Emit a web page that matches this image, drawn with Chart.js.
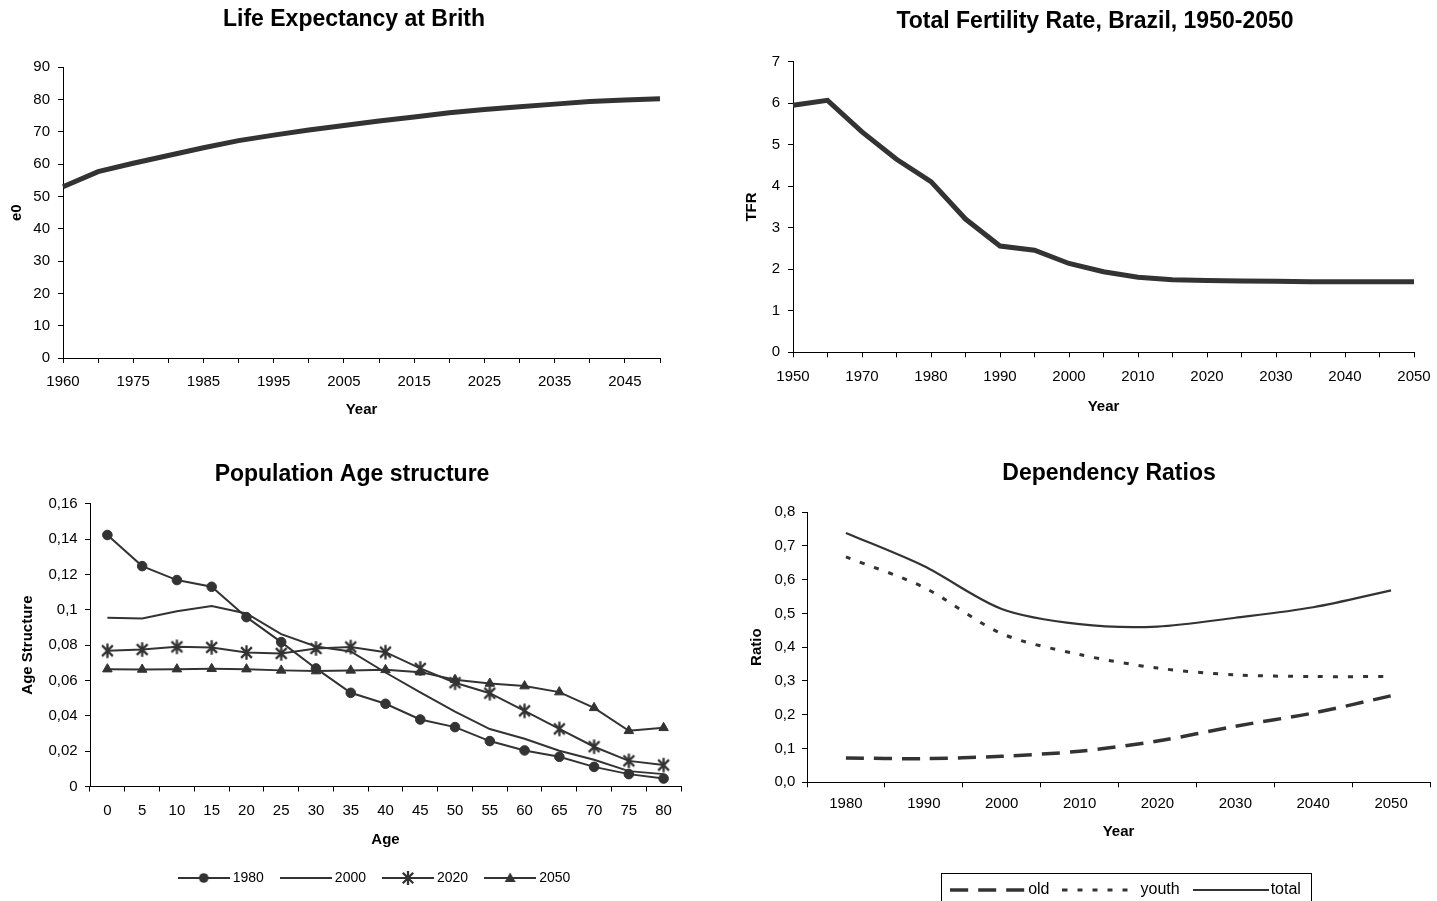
<!DOCTYPE html>
<html><head><meta charset="utf-8">
<script src="https://cdn.jsdelivr.net/npm/chart.js@4.4.1/dist/chart.umd.min.js"></script>
<style>
html,body{margin:0;padding:0;background:#fff;overflow:hidden;width:1437px;height:901px;position:relative;}
canvas{position:absolute;display:block;}
</style></head><body>
<canvas id="c1" width="708" height="430" style="left:0;top:0;width:708px;height:430px"></canvas>
<canvas id="c2" width="750" height="430" style="left:720px;top:0;width:750px;height:430px"></canvas>
<canvas id="c3" width="704" height="451" style="left:0;top:450px;width:704px;height:451px"></canvas>
<canvas id="c4" width="778" height="458" style="left:720px;top:450px;width:778px;height:458px"></canvas>
<script>
// ---------- DATA ----------
const lifeYears = ['1960','1970','1975','1980','1985','1990','1995','2000','2005','2010','2015','2020','2025','2030','2035','2040','2045','2050'];
const lifeE0 = [53.0, 57.7, 60.3, 62.7, 65.1, 67.3, 69.0, 70.6, 72.0, 73.4, 74.6, 75.9, 76.9, 77.8, 78.6, 79.4, 79.9, 80.3];

const tfrYears = ['1950','1960','1970','1975','1980','1985','1990','1995','2000','2005','2010','2015','2020','2025','2030','2035','2040','2045','2050'];
const tfrValues = [5.95, 6.07, 5.31, 4.65, 4.11, 3.21, 2.56, 2.46, 2.14, 1.94, 1.81, 1.75, 1.73, 1.72, 1.71, 1.70, 1.70, 1.70, 1.70];

const ages = ['0','5','10','15','20','25','30','35','40','45','50','55','60','65','70','75','80'];
const age1980 = [0.1423, 0.1247, 0.1168, 0.1130, 0.0958, 0.0817, 0.0668, 0.0530, 0.0468, 0.0379, 0.0336, 0.0257, 0.0204, 0.0168, 0.0111, 0.0070, 0.0045];
const age2000 = [0.0955, 0.0951, 0.0992, 0.1021, 0.0979, 0.0862, 0.0792, 0.0764, 0.0645, 0.0532, 0.0423, 0.0325, 0.0270, 0.0202, 0.0151, 0.0087, 0.0070];
const age2020 = [0.0768, 0.0775, 0.0790, 0.0787, 0.0758, 0.0753, 0.0781, 0.0789, 0.0760, 0.0668, 0.0587, 0.0528, 0.0428, 0.0326, 0.0225, 0.0145, 0.0121];
const age2050 = [0.0664, 0.0662, 0.0664, 0.0666, 0.0664, 0.0657, 0.0653, 0.0657, 0.0660, 0.0647, 0.0604, 0.0583, 0.0568, 0.0534, 0.0445, 0.0315, 0.0332];
const ageTickLabels = ['0','0,02','0,04','0,06','0,08','0,1','0,12','0,14','0,16'];

const depYears = ['1980','1990','2000','2010','2020','2030','2040','2050'];
const depOld = [0.072, 0.070, 0.077, 0.092, 0.122, 0.166, 0.205, 0.256];
const depYouth = [0.667, 0.577, 0.440, 0.378, 0.338, 0.318, 0.313, 0.313];
const depTotal = [0.738, 0.640, 0.513, 0.468, 0.461, 0.487, 0.518, 0.568];
const ratioTickLabels = ['0,0','0,1','0,2','0,3','0,4','0,5','0,6','0,7','0,8'];

// ---------- STYLE HELPERS ----------
const FONT = "'Liberation Sans', Arial, Helvetica, sans-serif";
Chart.defaults.font.family = FONT;
Chart.defaults.color = '#000';
const INK = '#333';

function axisStyle(extra) {
  return Object.assign({
    grid: {display: true, drawOnChartArea: false, drawTicks: true, tickLength: 5, color: '#000', lineWidth: 1},
    border: {display: true, color: '#000', width: 1}
  }, extra);
}
function spacer(w) {
  return {type: 'linear', position: 'right', display: true, grid: {display: false}, border: {display: false},
          ticks: {display: false}, afterFit(s) { s.width = w; }};
}
function titleOpt(text, top, bottom) {
  return {display: true, text, color: '#000', font: {size: 23, weight: 'bold'}, padding: {top, bottom}};
}
function axisTitle(text, top, bottom) {
  return {display: true, text, color: '#000', font: {size: 15, weight: 'bold'}, padding: {top, bottom}};
}
function mk(w, h, draw) {
  const c = document.createElement('canvas'); c.width = w; c.height = h;
  const ctx = c.getContext('2d'); draw(ctx, w, h); return c;
}
function drawStar(ctx, cx, cy, r) {
  ctx.strokeStyle = INK; ctx.lineWidth = 2.3; ctx.beginPath();
  ctx.moveTo(cx - r, cy - r); ctx.lineTo(cx + r, cy + r);
  ctx.moveTo(cx + r, cy - r); ctx.lineTo(cx - r, cy + r);
  ctx.moveTo(cx, cy - r * 1.35); ctx.lineTo(cx, cy + r * 1.35);
  ctx.stroke();
}
const starImg = mk(17, 17, (ctx) => drawStar(ctx, 8.5, 8.5, 5.4));

function ageSample(marker) {
  return mk(52, 16, (ctx, w, h) => {
    ctx.strokeStyle = INK; ctx.fillStyle = INK; ctx.lineWidth = 2;
    ctx.beginPath(); ctx.moveTo(0, 8); ctx.lineTo(w, 8); ctx.stroke();
    const cx = w / 2, cy = 8;
    if (marker === 'circle') { ctx.beginPath(); ctx.arc(cx, cy, 4.8, 0, Math.PI * 2); ctx.fill(); }
    if (marker === 'star') { drawStar(ctx, cx, cy, 5.2); }
    if (marker === 'triangle') { ctx.beginPath(); ctx.moveTo(cx, cy - 5.5); ctx.lineTo(cx + 5.5, cy + 4); ctx.lineTo(cx - 5.5, cy + 4); ctx.closePath(); ctx.fill(); }
  });
}
function depSample(dash, width, len) {
  return mk(76, 10, (ctx, w, h) => {
    ctx.strokeStyle = INK; ctx.lineWidth = width; ctx.setLineDash(dash);
    ctx.beginPath(); ctx.moveTo(0, 5); ctx.lineTo(len, 5); ctx.stroke();
  });
}
const ageLegendImgs = [ageSample('circle'), ageSample(null), ageSample('star'), ageSample('triangle')];
const OLD_DASH = [18, 10], YOUTH_DASH = [5, 10];
const depLegendImgs = [depSample(OLD_DASH, 3.5, 76), depSample(YOUTH_DASH, 3, 66), depSample([], 2, 76)];

// shifts a legend horizontally after layout (and optionally frames it)
function legendShift(dx, frame) {
  return {
    id: 'legendShift',
    afterUpdate(chart) {
      const lg = chart.legend;
      if (!lg) return;
      lg.left += dx; lg.right += dx;
      (lg.legendHitBoxes || []).forEach(h => { h.left += dx; });
    },
    afterDraw(chart) {
      if (!frame) return;
      const hb = chart.legend && chart.legend.legendHitBoxes;
      if (!hb || !hb.length) return;
      const first = hb[0], last = hb[hb.length - 1];
      const ctx = chart.ctx;
      ctx.save();
      ctx.strokeStyle = '#000'; ctx.lineWidth = 1;
      const l = Math.round(first.left - 15) + 0.5, r = Math.round(last.left + last.width + 10.6) + 0.5;
      const t = Math.round(first.top - 8.7) + 0.5, b = Math.round(first.top + 24.7) + 0.5;
      ctx.strokeRect(l, t, r - l, b - t);
      ctx.restore();
    }
  };
}

const base = {responsive: false, animation: false, devicePixelRatio: 1, events: []};

// ---------- CHART 1: Life expectancy ----------
new Chart(document.getElementById('c1'), {
  type: 'line',
  data: {labels: lifeYears, datasets: [{label: 'e0', data: lifeE0, borderColor: INK, borderWidth: 5, pointRadius: 0, tension: 0, fill: false}]},
  options: Object.assign({}, base, {
    plugins: {legend: {display: false}, tooltip: {enabled: false}, title: titleOpt('Life Expectancy at Brith', 6.2, 33.5)},
    scales: {
      x: axisStyle({offset: false,
        ticks: {autoSkip: false, maxRotation: 0, font: {size: 15}, padding: 9.7, callback: (v, i) => i % 2 === 0 ? lifeYears[i] : ''},
        title: axisTitle('Year', 0, 11), afterFit(s) { s.height = 72; }}),
      y: axisStyle({min: 0, max: 90, ticks: {stepSize: 10, font: {size: 15}, padding: 8},
        title: axisTitle('e0', 8, 0), afterFit(s) { s.width = 63; }}),
      r: spacer(48)
    }
  })
});

// ---------- CHART 2: TFR ----------
new Chart(document.getElementById('c2'), {
  type: 'line',
  data: {labels: tfrYears, datasets: [{label: 'TFR', data: tfrValues, borderColor: INK, borderWidth: 5, pointRadius: 0, tension: 0, fill: false}]},
  options: Object.assign({}, base, {
    plugins: {legend: {display: false}, tooltip: {enabled: false}, title: titleOpt('Total Fertility Rate, Brazil, 1950-2050', 7.9, 26.2)},
    scales: {
      x: axisStyle({offset: false,
        ticks: {autoSkip: false, maxRotation: 0, font: {size: 15}, padding: 10.5, callback: (v, i) => i % 2 === 0 ? tfrYears[i] : ''},
        title: axisTitle('Year', 0, 14), afterFit(s) { s.height = 77.7; }}),
      y: axisStyle({min: 0, max: 7, ticks: {stepSize: 1, font: {size: 15}, padding: 8},
        title: axisTitle('TFR', 23, 0), afterFit(s) { s.width = 73; }}),
      r: spacer(56)
    }
  })
});

// ---------- CHART 3: Age structure ----------
new Chart(document.getElementById('c3'), {
  type: 'line',
  data: {labels: ages, datasets: [
    {label: '1980', data: age1980, borderColor: INK, backgroundColor: INK, borderWidth: 2, pointStyle: 'circle', pointRadius: 4.8, pointBorderWidth: 1, tension: 0},
    {label: '2000', data: age2000, borderColor: INK, backgroundColor: INK, borderWidth: 2, pointRadius: 0, tension: 0},
    {label: '2020', data: age2020, borderColor: INK, backgroundColor: INK, borderWidth: 2, pointStyle: starImg, pointRadius: 6, tension: 0},
    {label: '2050', data: age2050, borderColor: INK, backgroundColor: INK, borderWidth: 2, pointStyle: 'triangle', pointRadius: 5.5, pointBorderWidth: 1, tension: 0}
  ]},
  plugins: [legendShift(24, false)],
  options: Object.assign({}, base, {
    layout: {padding: {bottom: 6}},
    plugins: {
      tooltip: {enabled: false},
      title: titleOpt('Population Age structure', 11.2, 14.9),
      legend: {display: true, position: 'bottom', fullSize: true,
        labels: {usePointStyle: true, pointStyleWidth: 44, padding: 20, color: '#000', font: {size: 14},
          generateLabels: (chart) => Chart.defaults.plugins.legend.labels.generateLabels(chart).map((it, i) => Object.assign(it, {pointStyle: ageLegendImgs[i]}))}}
    },
    scales: {
      x: axisStyle({offset: true, grid: {display: true, offset: true, drawOnChartArea: false, drawTicks: true, tickLength: 5, color: '#000', lineWidth: 1},
        ticks: {autoSkip: false, maxRotation: 0, font: {size: 15}, padding: 10.2, callback: (v, i) => ages[i]},
        title: axisTitle('Age', 0, 2), afterFit(s) { s.height = 64.5; }}),
      y: axisStyle({min: 0, max: 0.16, ticks: {stepSize: 0.02, font: {size: 15}, padding: 7.3, callback: (v, i) => ageTickLabels[i]},
        title: axisTitle('Age Structure', 18.4, 0), afterFit(s) { s.width = 90; }}),
      r: spacer(23)
    }
  })
});

// ---------- CHART 4: Dependency ratios ----------
new Chart(document.getElementById('c4'), {
  type: 'line',
  data: {labels: depYears, datasets: [
    {label: 'old', data: depOld, borderColor: INK, borderWidth: 3.5, borderDash: OLD_DASH, pointRadius: 0, tension: 0.3},
    {label: 'youth', data: depYouth, borderColor: INK, borderWidth: 3, borderDash: YOUTH_DASH, pointRadius: 0, tension: 0.3},
    {label: 'total', data: depTotal, borderColor: INK, borderWidth: 2.2, pointRadius: 0, tension: 0.3}
  ]},
  plugins: [legendShift(10, true)],
  options: Object.assign({}, base, {
    plugins: {
      tooltip: {enabled: false},
      title: titleOpt('Dependency Ratios', 10.2, 24.2),
      legend: {display: true, position: 'bottom', fullSize: false,
        labels: {usePointStyle: true, pointStyleWidth: 64, padding: 19, color: '#000', font: {size: 16},
          generateLabels: (chart) => Chart.defaults.plugins.legend.labels.generateLabels(chart).map((it, i) => Object.assign(it, {pointStyle: depLegendImgs[i]}))}}
    },
    scales: {
      x: axisStyle({offset: true, grid: {display: true, offset: true, drawOnChartArea: false, drawTicks: true, tickLength: 5, color: '#000', lineWidth: 1},
        ticks: {autoSkip: false, maxRotation: 0, font: {size: 15}, padding: 8, callback: (v, i) => depYears[i]},
        title: axisTitle('Year', 0, 21.7), afterFit(s) { s.height = 80.7; }}),
      y: axisStyle({min: 0, max: 0.8, ticks: {stepSize: 0.1, font: {size: 15}, padding: 6.7, callback: (v, i) => ratioTickLabels[i]},
        title: axisTitle('Ratio', 27.7, 0), afterFit(s) { s.width = 87; }}),
      r: spacer(68)
    }
  })
});
</script>
</body></html>
